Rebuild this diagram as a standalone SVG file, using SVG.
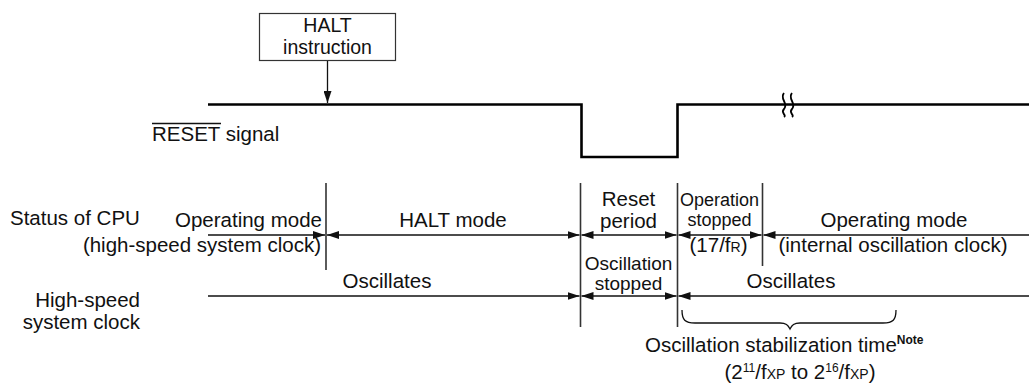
<svg xmlns="http://www.w3.org/2000/svg" width="1029" height="383" viewBox="0 0 1029 383">
<style>
text{font-family:"Liberation Sans",Arial,sans-serif;font-size:20.5px;fill:#111}
.m{text-anchor:middle}
.e{text-anchor:end}
.s{font-size:18px}
.sub{font-size:14px}
.sup{font-size:12px}
.b{font-weight:bold}
.sig{fill:none;stroke:#000;stroke-width:2.6}
.ln{stroke:#111;stroke-width:1.3;fill:none}
.vl{stroke:#333;stroke-width:1.6}
</style>
<defs>
<marker id="ah" viewBox="0 0 12 8" refX="12" refY="4" markerWidth="12" markerHeight="8" markerUnits="userSpaceOnUse" orient="auto-start-reverse">
<path d="M0,0 L12,4 L0,8 Z" fill="#111"/>
</marker>
</defs>
<g id="halt-instruction">
<rect x="259.5" y="13.5" width="136" height="47" fill="#fff" stroke="#333" stroke-width="1.2"/>
<text class="m" x="327.5" y="32" style="font-size:19.5px">HALT</text>
<text class="m" x="327.5" y="54" style="font-size:19.5px">instruction</text>
</g>
<g id="labels">
<text x="152" y="141">RESET signal</text>
<line x1="152" y1="123.5" x2="221" y2="123.5" stroke="#111" stroke-width="1.3"/>
<text x="10" y="225">Status of CPU</text>
<text class="e" x="140" y="307">High-speed</text>
<text class="e" x="140" y="329">system clock</text>
</g>
<g id="reset-signal">
<path class="sig" d="M208,104.5 H581.5 V157 H677.5 V104.5 H1029"/>
<path d="M784,93 C779,99 789,103 784,109 C780,113 787,115 784,117" fill="none" stroke="#000" stroke-width="1.8"/>
<path d="M792,93 C787,99 797,103 792,109 C788,113 795,115 792,117" fill="none" stroke="#000" stroke-width="1.8"/>
</g>
<g id="boundaries">
<line class="vl" x1="326" y1="183" x2="326" y2="270"/>
<line class="vl" x1="580.5" y1="183" x2="580.5" y2="327"/>
<line class="vl" x1="677.5" y1="183" x2="677.5" y2="327"/>
<line class="vl" x1="762.5" y1="183" x2="762.5" y2="266"/>
</g>
<g id="connectors">
<line class="ln" x1="327.5" y1="61" x2="327.5" y2="103" marker-end="url(#ah)"/>
<line class="ln" x1="208" y1="235" x2="325" y2="235" marker-end="url(#ah)"/>
<line class="ln" x1="327" y1="235" x2="579.5" y2="235" marker-start="url(#ah)" marker-end="url(#ah)"/>
<line class="ln" x1="581.5" y1="235" x2="676.5" y2="235" marker-start="url(#ah)" marker-end="url(#ah)"/>
<line class="ln" x1="678.5" y1="235" x2="761.5" y2="235" marker-start="url(#ah)" marker-end="url(#ah)"/>
<line class="ln" x1="763.5" y1="235" x2="1029" y2="235" marker-start="url(#ah)"/>
<line class="ln" x1="208" y1="296" x2="579.5" y2="296" marker-end="url(#ah)"/>
<line class="ln" x1="581.5" y1="296" x2="676.5" y2="296" marker-start="url(#ah)" marker-end="url(#ah)"/>
<line class="ln" x1="678.5" y1="296" x2="1029" y2="296" marker-start="url(#ah)"/>
<path class="ln" d="M682,310 C682,320 685,323 695,323 H780 C786,323 788,325 790,329 C792,325 794,323 800,323 H883 C893,323 896,320 896,310"/>
</g>
<g id="cpu-status">
<text class="e" x="322" y="227">Operating mode</text>
<text class="e" x="321" y="252">(high-speed system clock)</text>
<text class="m" x="453" y="227">HALT mode</text>
<text class="m" x="628.5" y="206">Reset</text>
<text class="m" x="628.5" y="228">period</text>
<text class="m s" x="719.5" y="206">Operation</text>
<text class="m s" x="719.5" y="226">stopped</text>
<text class="m" x="718.5" y="252">(17/f<tspan class="sub">R</tspan>)</text>
<text class="m" x="894" y="227">Operating mode</text>
<text class="m" x="893" y="252">(internal oscillation clock)</text>
</g>
<g id="clock-status">
<text class="m" x="387" y="288">Oscillates</text>
<text class="m" x="628.5" y="270" style="font-size:19px">Oscillation</text>
<text class="m" x="628.5" y="290" style="font-size:19px">stopped</text>
<text class="m" x="791" y="288">Oscillates</text>
</g>
<g id="stabilization-note">
<text x="645" y="352">Oscillation stabilization time<tspan class="sup b" dy="-8">Note</tspan></text>
<text class="m" x="800" y="379">(2<tspan class="sup" dy="-7">11</tspan><tspan dy="7">/f</tspan><tspan class="sub">XP</tspan> to 2<tspan class="sup" dy="-7">16</tspan><tspan dy="7">/f</tspan><tspan class="sub">XP</tspan>)</text>
</g>
</svg>
